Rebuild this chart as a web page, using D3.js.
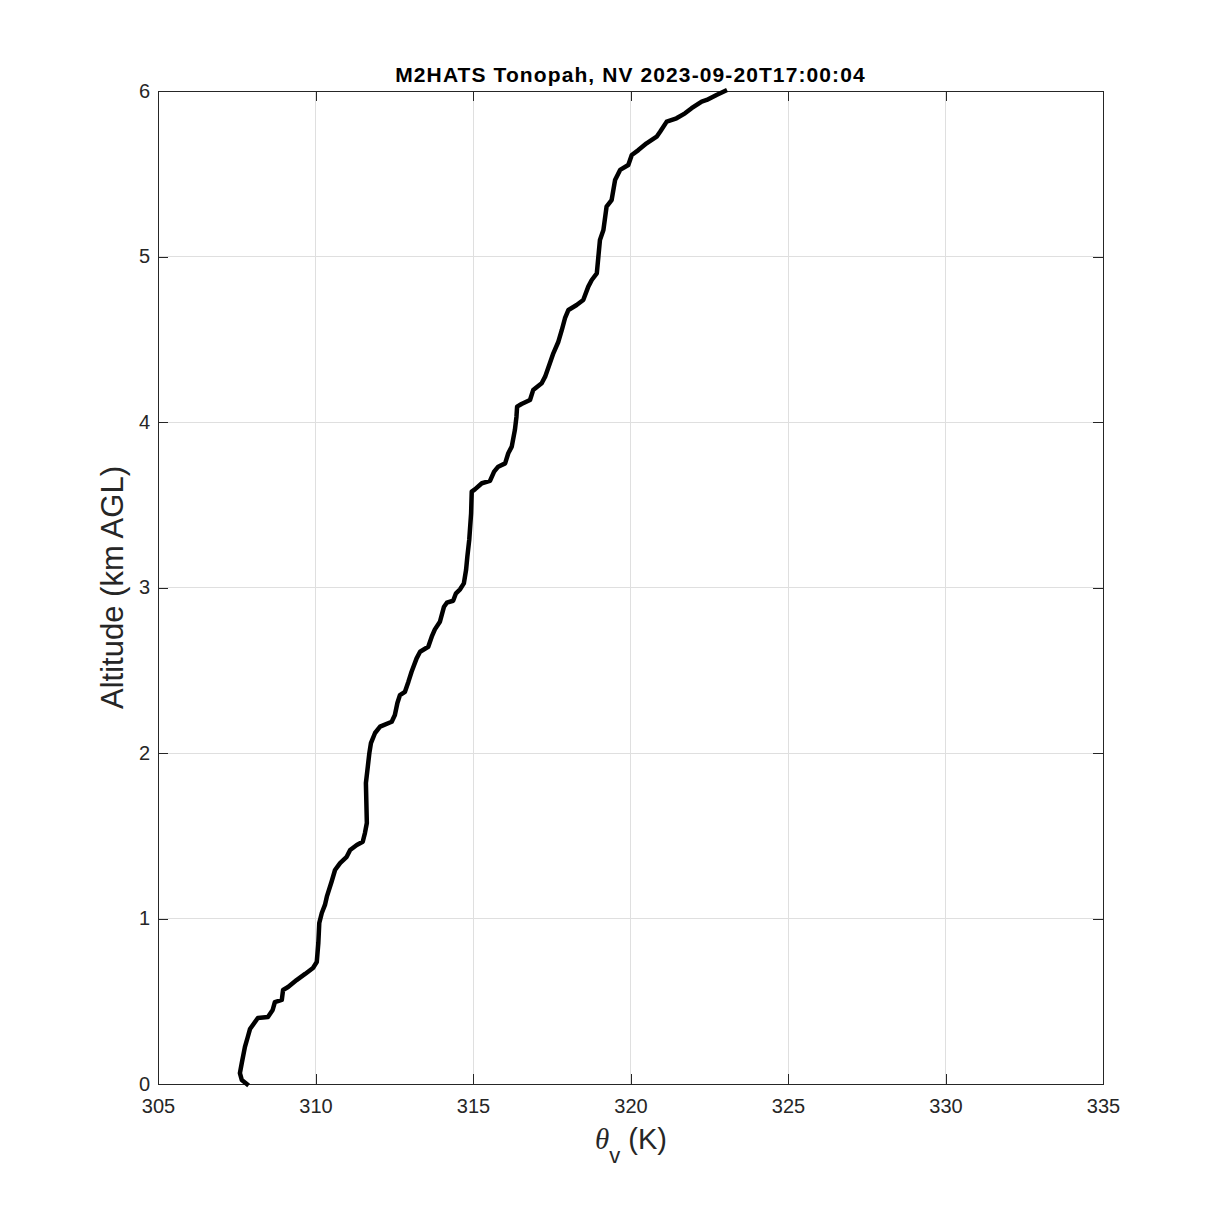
<!DOCTYPE html>
<html><head><meta charset="utf-8">
<script src="https://cdn.jsdelivr.net/npm/d3@7"></script>
<style>body{margin:0;background:#fff}svg{display:block}</style>
</head><body>
<script>
const title = "M2HATS Tonopah, NV 2023-09-20T17:00:04";
const xTicks = [305,310,315,320,325,330,335];
const yTicks = [0,1,2,3,4,5,6];
const thetaV = [307.82,307.66,307.60,307.66,307.76,307.85,307.92,308.17,308.49,308.64,308.71,308.93,308.97,309.13,309.40,309.67,309.92,310.04,310.09,310.12,310.20,310.30,310.36,310.51,310.62,310.78,310.99,311.10,311.31,311.50,311.57,311.63,311.60,311.66,311.71,311.76,311.89,312.05,312.42,312.52,312.60,312.68,312.84,312.95,313.05,313.21,313.32,313.58,313.69,313.79,313.95,314.08,314.17,314.37,314.46,314.59,314.71,314.78,314.82,314.88,314.94,314.96,315.06,315.28,315.54,315.67,315.80,316.02,316.12,316.23,316.33,316.38,316.40,316.54,316.81,316.91,317.18,317.29,317.44,317.55,317.71,317.82,317.92,318.03,318.29,318.50,318.66,318.77,318.93,318.98,319.03,319.14,319.24,319.40,319.51,319.67,319.93,320.04,320.25,320.51,320.83,320.94,321.15,321.46,321.73,321.94,322.26,322.42,322.73,323.00];
const altKm = [0.000,0.024,0.066,0.127,0.224,0.284,0.332,0.399,0.405,0.447,0.495,0.508,0.568,0.586,0.628,0.665,0.701,0.737,0.852,0.973,1.033,1.082,1.132,1.222,1.293,1.335,1.373,1.414,1.444,1.464,1.517,1.577,1.819,1.917,2.000,2.060,2.121,2.159,2.189,2.230,2.302,2.350,2.370,2.431,2.491,2.572,2.612,2.642,2.703,2.747,2.793,2.884,2.908,2.920,2.965,2.989,3.025,3.106,3.186,3.287,3.448,3.579,3.593,3.630,3.644,3.700,3.730,3.750,3.811,3.851,3.952,4.032,4.093,4.109,4.133,4.193,4.234,4.274,4.355,4.415,4.485,4.556,4.627,4.677,4.707,4.737,4.818,4.858,4.898,4.999,5.100,5.160,5.301,5.341,5.462,5.523,5.553,5.613,5.643,5.684,5.724,5.754,5.815,5.835,5.865,5.896,5.936,5.946,5.976,6.000];

const W=1219,H=1219;
const m={left:158,right:1103,top:91,bottom:1084};
const svg=d3.select("body").append("svg").attr("width",W).attr("height",H);
const x=d3.scaleLinear().domain([305,335]).range([m.left,m.right]);
const y=d3.scaleLinear().domain([0,6]).range([m.bottom,m.top]);
const font="'Liberation Sans', Arial, Helvetica, sans-serif";
const axCol="#262626";

// grid
const g=svg.append("g");
g.selectAll(".gx").data(xTicks.slice(1,-1)).enter().append("line")
 .attr("x1",d=>x(d)).attr("x2",d=>x(d)).attr("y1",m.top).attr("y2",m.bottom)
 .attr("stroke","#dfdfdf").attr("stroke-width",1).attr("shape-rendering","crispEdges");
g.selectAll(".gy").data(yTicks.slice(1,-1)).enter().append("line")
 .attr("y1",d=>y(d)).attr("y2",d=>y(d)).attr("x1",m.left).attr("x2",m.right)
 .attr("stroke","#dfdfdf").attr("stroke-width",1).attr("shape-rendering","crispEdges");

// axes
const tl=10;
const xb=svg.append("g").attr("transform",`translate(0,${m.bottom})`)
 .call(d3.axisBottom(x).tickValues(xTicks).tickSize(-tl).tickPadding(15).tickFormat(d3.format("d")));
const xt=svg.append("g").attr("transform",`translate(0,${m.top})`)
 .call(d3.axisTop(x).tickValues(xTicks).tickSize(-tl).tickFormat(""));
const yl=svg.append("g").attr("transform",`translate(${m.left},0)`)
 .call(d3.axisLeft(y).tickValues(yTicks).tickSize(-tl).tickPadding(8).tickFormat(d3.format("d")));
const yr=svg.append("g").attr("transform",`translate(${m.right},0)`)
 .call(d3.axisRight(y).tickValues(yTicks).tickSize(-tl).tickFormat(""));
[xb,xt,yl,yr].forEach(a=>{
  a.selectAll("path,line").attr("stroke",axCol).attr("stroke-width",1).attr("shape-rendering","crispEdges");
  a.selectAll("text").attr("fill",axCol).attr("font-family",font).attr("font-size",20);
});
xb.selectAll("text").attr("dy","0.71em");

// line
const line=d3.line().x((d,i)=>x(thetaV[i])).y((d,i)=>y(altKm[i]));
svg.append("path").datum(altKm).attr("d",line).attr("fill","none")
 .attr("stroke","#000").attr("stroke-width",4.5).attr("stroke-linejoin","round").attr("stroke-linecap","square");

// title
svg.append("text").attr("x",(m.left+m.right)/2).attr("y",82).attr("text-anchor","middle")
 .attr("font-family",font).attr("font-weight","bold").attr("font-size",21).attr("letter-spacing",1.1)
 .attr("fill","#000").text(title);

// y label
svg.append("text").attr("transform",`translate(123,${(m.top+m.bottom)/2}) rotate(-90)`)
 .attr("text-anchor","middle").attr("font-family",font).attr("font-size",31).attr("fill",axCol)
 .text("Altitude (km AGL)");

// x label
const xlab=svg.append("text").attr("x",631).attr("y",1149).attr("text-anchor","middle")
 .attr("font-family",font).attr("font-size",29).attr("fill",axCol);
xlab.append("tspan").attr("font-family","'Liberation Serif','Times New Roman',serif").attr("font-style","italic").text("θ");
xlab.append("tspan").attr("font-size",22).attr("dy",14).text("v");
xlab.append("tspan").attr("dy",-14).text(" (K)");
</script>
</body></html>
